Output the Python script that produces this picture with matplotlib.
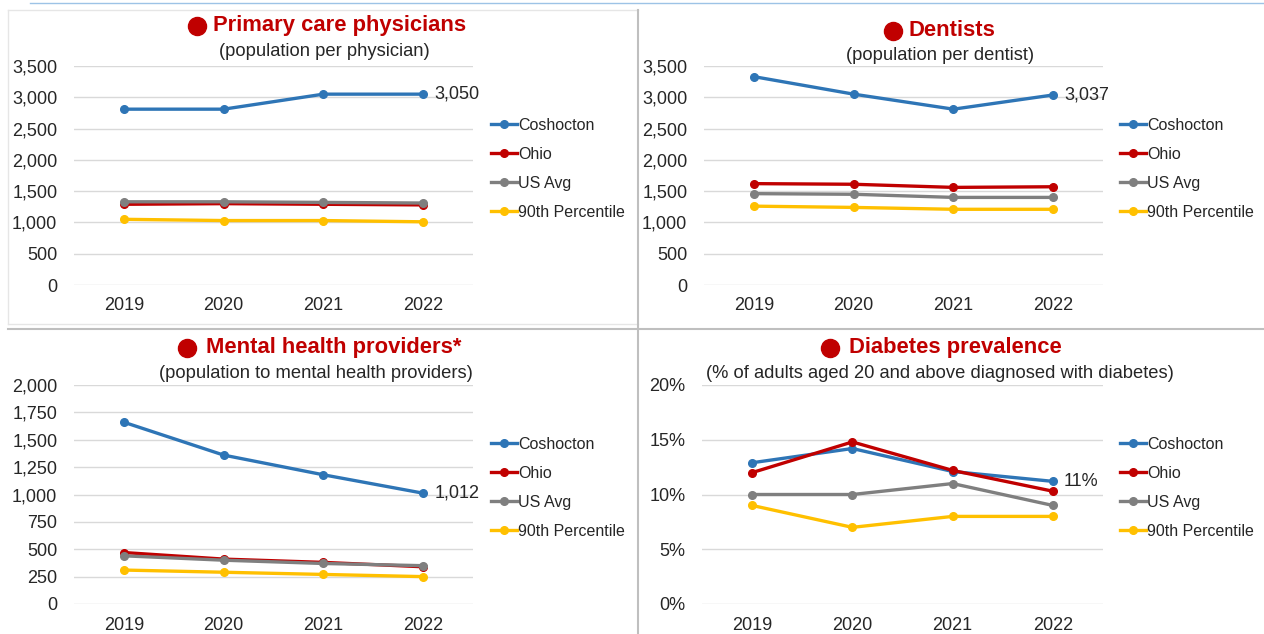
import matplotlib
matplotlib.use("Agg")
import matplotlib.pyplot as plt
from matplotlib.lines import Line2D
from matplotlib.ticker import FuncFormatter

plt.rcParams['font.family'] = ['Liberation Sans', 'DejaVu Sans']

# 数据
years = ["2019", "2020", "2021", "2022"]
series_names = ["Coshocton", "Ohio", "US Avg", "90th Percentile"]
colors = ["#2E75B6", "#C00000", "#7F7F7F", "#FFC000"]

pcp_coshocton = [2810, 2810, 3050, 3050]
pcp_ohio = [1290, 1300, 1290, 1280]
pcp_us = [1330, 1330, 1320, 1310]
pcp_p90 = [1050, 1030, 1030, 1010]

dent_coshocton = [3330, 3050, 2810, 3037]
dent_ohio = [1620, 1610, 1560, 1570]
dent_us = [1460, 1450, 1400, 1400]
dent_p90 = [1260, 1240, 1210, 1210]

mh_coshocton = [1660, 1360, 1180, 1012]
mh_ohio = [470, 410, 380, 340]
mh_us = [440, 400, 370, 350]
mh_p90 = [310, 290, 270, 250]

diab_coshocton = [12.9, 14.2, 12.1, 11.2]
diab_ohio = [12.0, 14.8, 12.2, 10.3]
diab_us = [10.0, 10.0, 11.0, 9.0]
diab_p90 = [9.0, 7.0, 8.0, 8.0]

W, H = 1264, 634
RED = "#C00000"
TXT = "#262626"
fig = plt.figure(figsize=(W / 100, H / 100), dpi=100)


def px_axes(x0, y_top, x1, y_bot):
    return fig.add_axes([x0 / W, 1 - y_bot / H, (x1 - x0) / W, (y_bot - y_top) / H])


def panel(box, data, ymax, ystep, fmt, title, subtitle, dot_x, title_x, sub_x, title_y, sub_y,
          label_text, leg_x, leg_y):
    ax = px_axes(*box)
    for vals, c in zip(data, colors):
        ax.plot(range(len(years)), vals, color=c, lw=2.4, marker="o", ms=5.5, zorder=3)
    ax.set_xlim(-0.5, 3.5)
    ax.set_ylim(0, ymax)
    ax.set_yticks([i * ystep for i in range(int(round(ymax / ystep)) + 1)])
    ax.yaxis.set_major_formatter(FuncFormatter(fmt))
    ax.set_xticks(range(len(years)))
    ax.set_xticklabels(years)
    ax.grid(axis="y", color="#D9D9D9", lw=1)
    ax.set_axisbelow(True)
    for s in ax.spines.values():
        s.set_visible(False)
    ax.tick_params(length=0, labelsize=13, colors=TXT)
    ax.tick_params(axis="y", pad=12)
    ax.tick_params(axis="x", pad=9)
    ax.annotate(label_text, (3, data[0][3]), xytext=(8, 0), textcoords="offset points",
                fontsize=13, va="center", ha="left", color=TXT)
    # 标题
    fig.add_artist(Line2D([dot_x / W], [1 - title_y / H], marker="o", ms=13,
                          color=RED, lw=0))
    fig.text(title_x / W, 1 - title_y / H, title, color=RED,
             fontsize=15.8, fontweight="bold", ha="center", va="center")
    fig.text(sub_x / W, 1 - sub_y / H, subtitle, color=TXT,
             fontsize=13.2, ha="center", va="center")
    handles = [Line2D([0], [0], color=c, lw=2.4, marker="o", ms=5.5) for c in colors]
    ax.legend(handles, series_names, loc="upper left",
              bbox_to_anchor=(leg_x / W, 1 - leg_y / H), bbox_transform=fig.transFigure,
              frameon=False, fontsize=11.5, handlelength=1.6, handletextpad=0.1,
              labelspacing=0.87, labelcolor=TXT, borderpad=0)
    return ax


def fmt_thousands(v, pos):
    return "{:,.0f}".format(v)


def fmt_pct(v, pos):
    return "{:.0f}%".format(v)


panel((74, 66, 473, 285), [pcp_coshocton, pcp_ohio, pcp_us, pcp_p90], 3500, 500,
      fmt_thousands, "Primary care physicians", "(population per physician)",
      197, 340, 324, 26, 51, "3,050", 483, 110)
panel((704, 66, 1103, 285), [dent_coshocton, dent_ohio, dent_us, dent_p90], 3500, 500,
      fmt_thousands, "Dentists", "(population per dentist)",
      893, 952, 940, 31, 55, "3,037", 1112, 110)
panel((74, 385, 473, 604), [mh_coshocton, mh_ohio, mh_us, mh_p90], 2000, 250,
      fmt_thousands, "Mental health providers*", "(population to mental health providers)",
      187, 334, 316, 348, 373, "1,012", 483, 429)
panel((702, 385, 1103, 604), [diab_coshocton, diab_ohio, diab_us, diab_p90], 20, 5,
      fmt_pct, "Diabetes prevalence", "(% of adults aged 20 and above diagnosed with diabetes)",
      830, 955, 940, 348, 373, "11%", 1112, 429)

# 分隔线
fig.add_artist(Line2D([30 / W, 1], [1 - 3 / H, 1 - 3 / H], color="#9DC3E6", lw=1))
fig.add_artist(Line2D([8 / W, 638 / W], [1 - 10 / H, 1 - 10 / H], color="#E6E6E6", lw=1))
fig.add_artist(Line2D([8 / W, 8 / W], [1 - 10 / H, 1 - 324 / H], color="#E6E6E6", lw=1))
fig.add_artist(Line2D([8 / W, 638 / W], [1 - 324 / H, 1 - 324 / H], color="#E6E6E6", lw=1))
fig.add_artist(Line2D([638 / W, 638 / W], [1 - 10 / H, 0], color="#BFBFBF", lw=1.5))
fig.add_artist(Line2D([8 / W, 1], [1 - 329 / H, 1 - 329 / H], color="#BFBFBF", lw=1.5))

fig.savefig("out.png", dpi=100)
